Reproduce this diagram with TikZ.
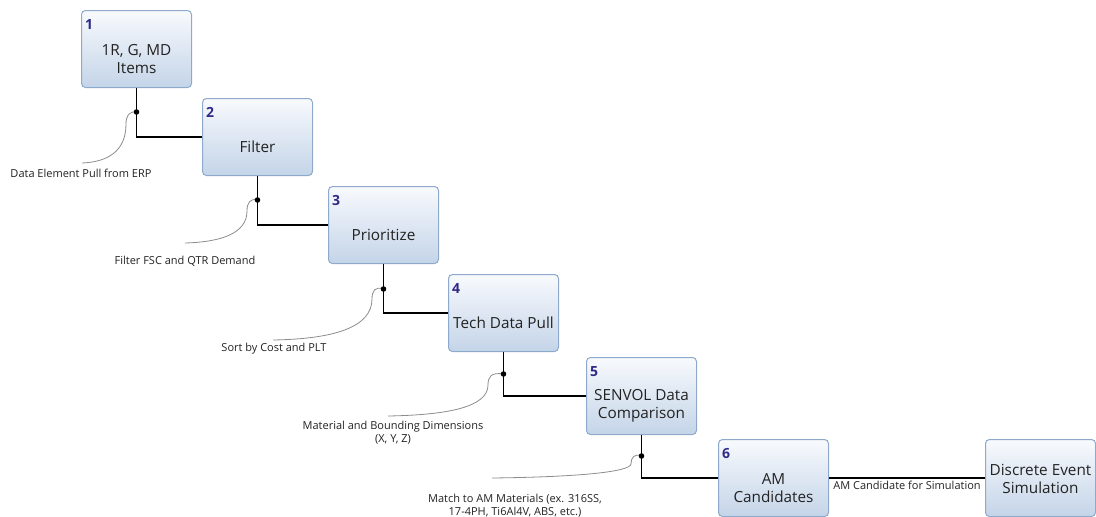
\documentclass[tikz,border=0pt]{standalone}
\usepackage{fontspec}
\setmainfont{Open Sans}
\usetikzlibrary{calc}
\definecolor{boxborder}{HTML}{8DA9CB}
\definecolor{boxtop}{HTML}{F8FAFD}
\definecolor{boxbot}{HTML}{C4D4E8}
\definecolor{numcol}{HTML}{2E2A86}
\definecolor{calloutcol}{HTML}{8C8C8C}
\definecolor{txtcol}{HTML}{222222}
\begin{document}
\begin{tikzpicture}[x=1pt,y=-1pt,
  box/.style={draw=boxborder, line width=1pt, rounded corners=4pt,
    top color=boxtop, bottom color=boxbot, anchor=north west,
    minimum width=110pt, minimum height=77pt, inner sep=0pt},
  boxtext/.style={align=center, text=txtcol, inner sep=0pt,
    font=\fontsize{15.3}{18}\selectfont},
  num/.style={anchor=north west, inner sep=0pt, text=numcol,
    font=\fontsize{14}{16}\selectfont\bfseries},
  conn/.style={line width=1.8pt, black},
  callout/.style={draw=calloutcol, line width=0.8pt},
  lbl/.style={align=center, text=txtcol, inner sep=0pt,
    font=\fontsize{11}{12.5}\selectfont},
  jdot/.style={fill=black}
]
\useasboundingbox (0,0) rectangle (1096,517);

% boxes
\node[box] (b1) at (81,10) {};
\node[box] (b2) at (202,98) {};
\node[box] (b3) at (328,186) {};
\node[box] (b4) at (448,274) {};
\node[box] (b5) at (586,357) {};
\node[box] (b6) at (718,439) {};
\node[box] (b7) at (985,439) {};

% numbers
\node[num] (n1) at ($(b1.north west)+(4,9)$) {1};
\node[num] (n2) at ($(b2.north west)+(4,9)$) {2};
\node[num] (n3) at ($(b3.north west)+(4,9)$) {3};
\node[num] (n4) at ($(b4.north west)+(4,9)$) {4};
\node[num] (n5) at ($(b5.north west)+(4,9)$) {5};
\node[num] (n6) at ($(b6.north west)+(4,9)$) {6};

% box texts
\node[boxtext] (t1) at ($(b1.center)+(0,10)$) {1R, G, MD\\Items};
\node[boxtext] (t2) at ($(b2.center)+(0,10)$) {Filter};
\node[boxtext] (t3) at ($(b3.center)+(0,10)$) {Prioritize};
\node[boxtext] (t4) at ($(b4.center)+(0,10)$) {Tech Data Pull};
\node[boxtext] (t5) at ($(b5.center)+(0,10)$) {SENVOL Data\\Comparison};
\node[boxtext] (t6) at ($(b6.center)+(0,10)$) {AM\\Candidates};
\node[boxtext] (t7) at ($(b7.center)+(0,1)$) {Discrete Event\\Simulation};

% junction points
\coordinate (j1) at ($(b1.south)+(0,24)$);
\coordinate (j2) at ($(b2.south)+(0,24)$);
\coordinate (j3) at ($(b3.south)+(0,25)$);
\coordinate (j4) at ($(b4.south)+(0,22)$);
\coordinate (j5) at ($(b5.south)+(0,21)$);

% callout curves
\coordinate (m1) at (126,124); \coordinate (e1) at (82,163);
\coordinate (m2) at (247,211); \coordinate (e2) at (185,243);
\coordinate (m3) at (372,299); \coordinate (e3) at (273,340);
\coordinate (m4) at (488,385); \coordinate (e4) at (388,416);
\coordinate (m5) at (631,464); \coordinate (e5) at (492,478);
\draw[callout] (j1) .. controls (129,111) and (126,116) .. (m1) .. controls (126,151) and (108,162) .. (e1);
\draw[callout] (j2) .. controls (250,198) and (247,203) .. (m2) .. controls (247,233) and (222,242) .. (e2);
\draw[callout] (j3) .. controls (375,286) and (372,291) .. (m3) .. controls (372,328) and (332,339) .. (e3);
\draw[callout] (j4) .. controls (491,372) and (488,377) .. (m4) .. controls (488,407) and (448,415) .. (e4);
\draw[callout] (j5) .. controls (634,453) and (631,458) .. (m5) .. controls (630,472) and (577,477) .. (e5);

% callout labels
\node[lbl] (l1) at (81,173) {Data Element Pull from ERP};
\node[lbl] (l2) at (185,261) {Filter FSC and QTR Demand};
\node[lbl] (l3) at (274,349) {Sort by Cost and PLT};
\node[lbl] (l4) at (393,432.5) {Material and Bounding Dimensions\\(X, Y, Z)};
\node[lbl] (l5) at (515,505.5) {Match to AM Materials (ex. 316SS,\\17-4PH, Ti6Al4V, ABS, etc.)};

% connectors
\draw[conn] (b1.south) -- (j1) |- (b2.west);
\draw[conn] (b2.south) -- (j2) |- (b3.west);
\draw[conn] (b3.south) -- (j3) |- (b4.west);
\draw[conn] (b4.south) -- (j4) |- (b5.west);
\draw[conn] (b5.south) -- (j5) |- (b6.west);
\draw[conn] (b6.east) -- (b7.west) node[midway, below=2.5pt, lbl] (el) {AM Candidate for Simulation};

% junction dots
\fill[jdot] (j1) circle (2.8pt);
\fill[jdot] (j2) circle (2.8pt);
\fill[jdot] (j3) circle (2.8pt);
\fill[jdot] (j4) circle (2.8pt);
\fill[jdot] (j5) circle (2.8pt);
\end{tikzpicture}
\end{document}
